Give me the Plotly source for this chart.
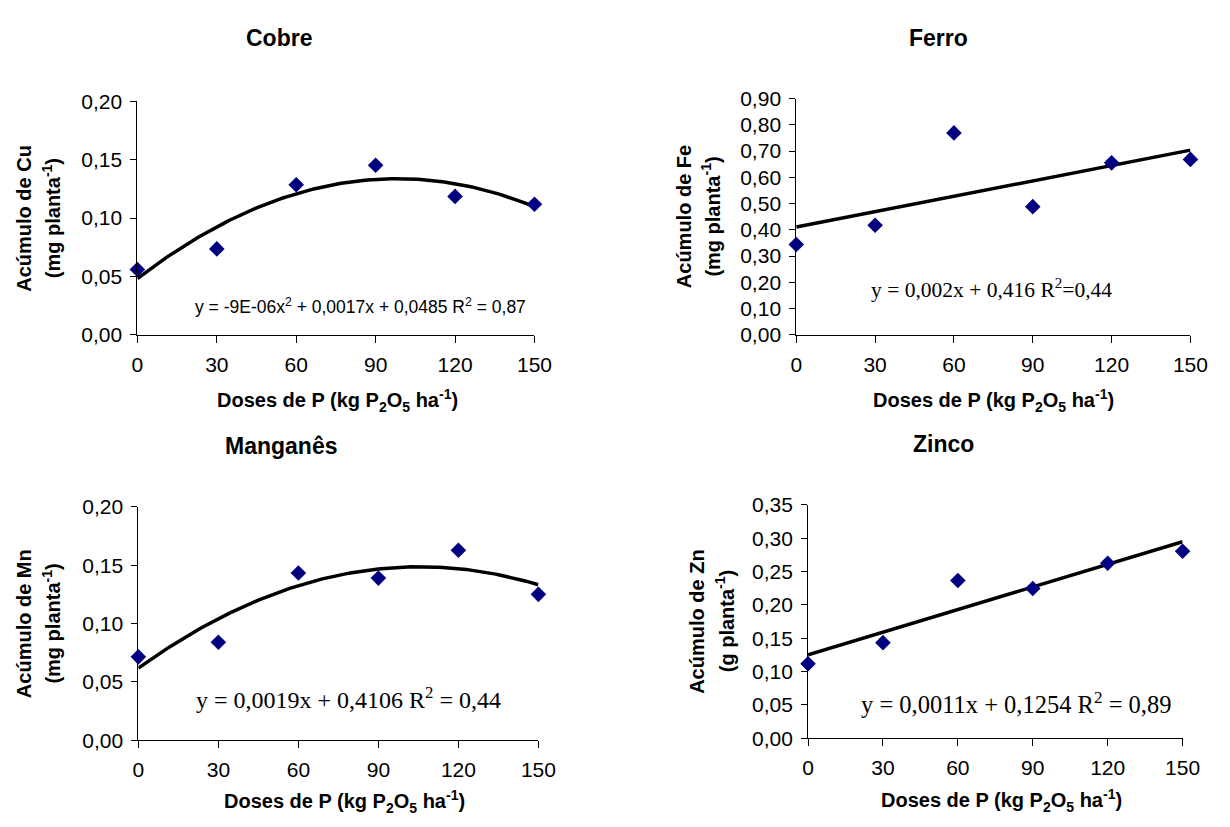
import numpy as np
import plotly.graph_objects as go

W, H = 1230, 827

# Doses de P (kg P2O5 ha-1)
doses = [0, 30, 60, 90, 120, 150]

# Acúmulo de micronutrientes por planta
cobre = [0.056, 0.0736, 0.1286, 0.1453, 0.1186, 0.1119]
ferro = [0.344, 0.417, 0.769, 0.488, 0.655, 0.668]
manganes = [0.0714, 0.0839, 0.1433, 0.1389, 0.1628, 0.1250]
zinco = [0.1118, 0.1434, 0.2367, 0.2246, 0.2625, 0.2805]

x_ticks = [0, 30, 60, 90, 120, 150]

serif = "Liberation Serif, Times New Roman, serif"
sans = "Arial, Liberation Sans, sans-serif"

panels = [
    dict(name="Cobre", y=cobre, deg=2, ymax=0.20, dtick=0.05,
         px=(134, 539), py=(92, 332), title_xy=(278, 27),
         ylab=("Acúmulo de Cu", "(mg planta<sup>-1</sup>)"), ylab_x=(18, 46),
         xlab_xy=(338, 400),
         eq="y = -9E-06x<sup>2</sup> + 0,0017x + 0,0485 R<sup>2</sup> = 0,87",
         eq_xy=(362, 302), eq_font=dict(family=sans, size=17.5)),
    dict(name="Ferro", y=ferro, deg=1, ymax=0.90, dtick=0.10,
         px=(806, 1208), py=(89, 332), title_xy=(951, 27),
         ylab=("Acúmulo de Fe", "(mg planta<sup>-1</sup>)"), ylab_x=(691, 719),
         xlab_xy=(1007, 400),
         eq="y = 0,002x + 0,416 R<sup>2</sup>=0,44",
         eq_xy=(1005, 284), eq_font=dict(family=serif, size=21.5)),
    dict(name="Manganês", y=manganes, deg=2, ymax=0.20, dtick=0.05,
         px=(135, 543), py=(509, 749), title_xy=(280, 446),
         ylab=("Acúmulo de Mn", "(mg planta<sup>-1</sup>)"), ylab_x=(18, 46),
         xlab_xy=(345, 812),
         eq="y = 0,0019x + 0,4106 R<sup>2</sup> = 0,44",
         eq_xy=(349, 706), eq_font=dict(family=serif, size=24)),
    dict(name="Zinco", y=zinco, deg=1, ymax=0.35, dtick=0.05,
         px=(818, 1200), py=(507, 747), title_xy=(956, 444),
         ylab=("Acúmulo de Zn", "(g planta<sup>-1</sup>)"), ylab_x=(704, 733),
         xlab_xy=(1015, 811),
         eq="y = 0,0011x + 0,1254 R<sup>2</sup> = 0,89",
         eq_xy=(1030, 711), eq_font=dict(family=serif, size=24.5)),
]

fig = go.Figure()
annotations = []
layout_axes = {}


def fx(px):
    return px / W


def fy(py):
    return 1 - py / H


for i, p in enumerate(panels, start=1):
    xa = f"x{i}" if i > 1 else "x"
    ya = f"y{i}" if i > 1 else "y"
    xkey = f"xaxis{i}" if i > 1 else "xaxis"
    ykey = f"yaxis{i}" if i > 1 else "yaxis"

    # fitted trend (Excel-style least squares)
    coef = np.polyfit(doses, p["y"], p["deg"])
    xs = np.linspace(0, 150, 151)
    fig.add_trace(go.Scatter(x=xs, y=np.polyval(coef, xs), mode="lines",
                             line=dict(color="black", width=3.5),
                             xaxis=xa, yaxis=ya, showlegend=False, hoverinfo="skip"))
    fig.add_trace(go.Scatter(x=doses, y=p["y"], mode="markers",
                             marker=dict(symbol="diamond", size=12, color="#000080"),
                             xaxis=xa, yaxis=ya, showlegend=False, cliponaxis=False))

    layout_axes[xkey] = dict(
        domain=[fx(p["px"][0]), fx(p["px"][1])], anchor=ya,
        range=[0, 150], tickvals=x_ticks, ticktext=[str(v) for v in x_ticks],
        showgrid=False, zeroline=False, showline=True, linecolor="black", linewidth=1,
        ticks="outside", ticklen=7, tickcolor="black", ticklabelstandoff=4,
        tickfont=dict(family=sans, size=21, color="black"),
    )
    nt = int(round(p["ymax"] / p["dtick"]))
    yv = [round(k * p["dtick"], 2) for k in range(nt + 1)]
    layout_axes[ykey] = dict(
        domain=[fy(p["py"][1]), fy(p["py"][0])], anchor=xa,
        range=[0, p["ymax"]], tickvals=yv, ticktext=[f"{v:.2f}".replace(".", ",") for v in yv],
        showgrid=False, zeroline=False, showline=True, linecolor="black", linewidth=1,
        ticks="outside", ticklen=6, tickcolor="black", ticklabelstandoff=4,
        tickfont=dict(family=sans, size=21, color="black"),
    )

    # panel title
    annotations.append(dict(text=f"<b>{p['name']}</b>", x=fx(p["title_xy"][0]), y=fy(p["title_xy"][1]),
                            xref="paper", yref="paper", showarrow=False,
                            xanchor="center", yanchor="middle",
                            font=dict(family=sans, size=23, color="black")))
    # y-axis title (two lines)
    cy = fy((p["py"][0] + p["py"][1]) / 2)
    for txt, xpix in zip(p["ylab"], p["ylab_x"]):
        annotations.append(dict(text=f"<b>{txt}</b>", x=fx(xpix), y=cy, textangle=-90,
                                xref="paper", yref="paper", showarrow=False,
                                xanchor="center", yanchor="middle",
                                font=dict(family=sans, size=20, color="black")))
    # x-axis title
    annotations.append(dict(text="<b>Doses de P (kg P<sub>2</sub>O<sub>5</sub> ha<sup>-1</sup>)</b>",
                            x=fx(p["xlab_xy"][0]), y=fy(p["xlab_xy"][1]),
                            xref="paper", yref="paper", showarrow=False,
                            xanchor="center", yanchor="middle",
                            font=dict(family=sans, size=20, color="black")))
    # regression equation
    annotations.append(dict(text=p["eq"], x=fx(p["eq_xy"][0]), y=fy(p["eq_xy"][1]),
                            xref="paper", yref="paper", showarrow=False,
                            xanchor="center", yanchor="middle",
                            font=dict(color="black", **p["eq_font"])))

fig.update_layout(
    width=W, height=H,
    margin=dict(l=0, r=0, t=0, b=0),
    paper_bgcolor="white", plot_bgcolor="white",
    annotations=annotations,
    **layout_axes,
)

fig.write_html("out.html", config={"displayModeBar": False})
